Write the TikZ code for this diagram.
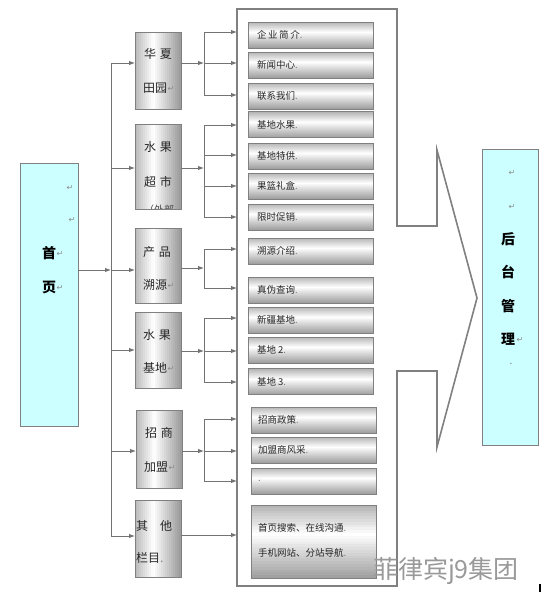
\documentclass[tikz,border=0pt]{standalone}
\usepackage{fontspec}
\setmainfont{Noto Sans CJK SC}
\newfontfamily\symfont{DejaVu Sans}
\usetikzlibrary{arrows.meta}
\newcommand\retmark{{\symfont\color{black!45}\fontsize{8}{8}\selectfont ↵}}
\newcommand\dotmark{{\color{black!50}.}}
\definecolor{lcyan}{HTML}{CCFFFF}
\definecolor{bord}{HTML}{808080}
% vertical gradient strips: #1 x-left, #2 y-top, #3 x-right, #4 y-bottom
\newcommand\vgradfill[4]{%
  \foreach \i in {0,...,25}{%
    \pgfmathsetmacro\ya{#2+(#4-#2)*\i/26}%
    \pgfmathsetmacro\yb{#2+(#4-#2)*(\i+1)/26+0.4}%
    \pgfmathsetmacro\tt{(\i+0.5)/26}%
    \pgfmathsetmacro\pp{\tt<0.4 ? 30*(1-\tt/0.4) : 38*(\tt-0.4)/0.6}%
    \fill[black!\pp] (#1,\ya) rectangle (#3,\yb);
  }}
% horizontal gradient strips
\newcommand\hgradfill[4]{%
  \foreach \i in {0,...,22}{%
    \pgfmathsetmacro\xa{#1+(#3-#1)*\i/23}%
    \pgfmathsetmacro\xb{#1+(#3-#1)*(\i+1)/23+0.4}%
    \pgfmathsetmacro\tt{(\i+0.5)/23}%
    \pgfmathsetmacro\pp{\tt<0.4 ? 28*(1-\tt/0.4) : 40*(\tt-0.4)/0.6}%
    \fill[black!\pp] (\xa,#2) rectangle (\xb,#4);
  }}
\begin{document}
\begin{tikzpicture}[x=1pt,y=-1pt,
  every node/.style={inner sep=0pt, outer sep=0pt},
  catbox/.style={draw=bord, line width=0.9pt, minimum width=46pt},
  subbox/.style={draw=bord, line width=0.9pt, minimum width=125pt, minimum height=26pt},
  mainbox/.style={draw=bord, line width=0.9pt, fill=lcyan},
  conn/.style={draw=black!55, line width=0.9pt},
  arr/.style={conn, -{Latex[length=6pt,width=4.5pt]}},
  cattext/.style={font=\fontsize{12}{12}\selectfont, text=black!85},
  subtext/.style={font=\fontsize{9.5}{10}\selectfont, text=black!85, anchor=west},
  bigtext/.style={font=\fontsize{14}{14}\selectfont\bfseries, text=black},
]
\useasboundingbox (0,0) rectangle (548,592);

% big arrow-shaped frame
\draw[draw=black!50, line width=1.6pt, line join=miter]
  (237,9) -- (397,9) -- (397,226) -- (437,226) -- (437,150) -- (477,298)
  -- (437,447) -- (437,371) -- (397,371) -- (397,586) -- (237,586) -- cycle;

% main boxes
\node[mainbox, minimum width=58pt, minimum height=263pt] (home) at (49,294.5) {};
\node[mainbox, minimum width=56pt, minimum height=296pt] (back) at (510,297) {};

% home text
\node at (70,188) {\retmark};
\node at (72,220) {\retmark};
\node[bigtext] (t1) at (49,253) {首};
\node at (60,254) {\retmark};
\node[bigtext] (t2) at (49,287) {页};
\node at (60,288) {\retmark};

% back text
\node at (512,173) {\retmark};
\node at (512,207) {\retmark};
\node[bigtext] at (508,239) {后};
\node[bigtext] at (508,272) {台};
\node[bigtext] at (508,306) {管};
\node[bigtext] at (508,339) {理};
\node at (520,340) {\retmark};
\node at (511,364) {\dotmark};

% category boxes: gradients then outlines
\hgradfill{135}{32}{181}{109}
\hgradfill{135}{124}{181}{209}
\hgradfill{135}{228}{181}{303}
\hgradfill{135}{312}{181}{388}
\hgradfill{136}{410}{182}{488}
\hgradfill{135}{500}{181}{577}
\node[catbox, minimum height=77pt] (hx) at (158,70.5) {};
\node[catbox, minimum height=85pt] (sg) at (158,166.5) {};
\node[catbox, minimum height=75pt] (cp) at (158,265.5) {};
\node[catbox, minimum height=76pt] (jd) at (158,350) {};
\node[catbox, minimum height=78pt] (zs) at (159,449) {};
\node[catbox, minimum height=77pt] (qt) at (158,538.5) {};

\node[cattext] at (158,54) {华\,\,夏};
\node[cattext] at (155,88) {田园};
\node at (171,89) {\retmark};
\node[cattext] at (158,147) {水\,\,果};
\node[cattext] at (158,182) {超\,\,市};
\begin{scope}
  \clip (135.5,124.5) rectangle (180.5,208.5);
  \node[font=\fontsize{10}{10}\selectfont, text=black!70] at (159,210) {（外部};
\end{scope}
\node[cattext] at (157,252) {产\,\,品};
\node[cattext] at (155,285) {溯源};
\node at (171,286) {\retmark};
\node[cattext] at (157,335) {水\,\,果};
\node[cattext] at (155,368) {基地};
\node at (171,369) {\retmark};
\node[cattext] at (159,433) {招\,\,商};
\node[cattext] at (156,467) {加盟};
\node at (172,468) {\retmark};
\node[cattext, anchor=west] at (136,526) {其\quad 他};
\node[cattext, anchor=west] at (136,558) {栏目\dotmark};

% sub boxes: gradients then outlines
\vgradfill{248}{22}{373}{48}
\vgradfill{248}{52}{373}{78}
\vgradfill{248}{83}{373}{109}
\vgradfill{248}{111.5}{373}{137.5}
\vgradfill{248}{143}{373}{169}
\vgradfill{248}{173}{373}{199}
\vgradfill{248}{204}{373}{230}
\vgradfill{248}{238}{373}{264}
\vgradfill{248}{277}{373}{303}
\vgradfill{248}{307}{373}{333}
\vgradfill{248}{337}{373}{363}
\vgradfill{248}{368.5}{373}{394.5}
\vgradfill{251}{407}{376}{433}
\vgradfill{251}{437}{376}{463}
\vgradfill{251}{468}{376}{494}
\vgradfill{251}{505}{376}{578}
\node[subbox] (s1) at (310.5,35) {};
\node[subbox] (s2) at (310.5,65) {};
\node[subbox] (s3) at (310.5,96) {};
\node[subbox] (s4) at (310.5,124.5) {};
\node[subbox] (s5) at (310.5,156) {};
\node[subbox] (s6) at (310.5,186) {};
\node[subbox] (s7) at (310.5,217) {};
\node[subbox] (s8) at (310.5,251) {};
\node[subbox] (s9) at (310.5,290) {};
\node[subbox] (s10) at (310.5,320) {};
\node[subbox] (s11) at (310.5,350) {};
\node[subbox] (s12) at (310.5,381.5) {};
\node[subbox] (s13) at (313.5,420) {};
\node[subbox] (s14) at (313.5,450) {};
\node[subbox] (s15) at (313.5,481) {};
\node[subbox, minimum height=73pt] (s16) at (313.5,541.5) {};

\node[subtext] at (257,35) {企\,业\,简\,介\dotmark};
\node[subtext] at (257,65) {新闻中心\dotmark};
\node[subtext] at (257,96) {联系我们\dotmark};
\node[subtext] at (257,124.5) {基地水果\dotmark};
\node[subtext] at (257,156) {基地特供\dotmark};
\node[subtext] at (257,186) {果篮礼盒\dotmark};
\node[subtext] at (257,217) {限时促销\dotmark};
\node[subtext] at (257,251) {溯源介绍\dotmark};
\node[subtext] at (257,290) {真伪查询\dotmark};
\node[subtext] at (257,320) {新疆基地\dotmark};
\node[subtext] at (257,350) {基地 2\dotmark};
\node[subtext] at (257,381.5) {基地 3\dotmark};
\node[subtext] at (258,420) {招商政策\dotmark};
\node[subtext] at (258,450) {加盟商风采\dotmark};
\node[subtext] at (258,481) {\dotmark};
\node[subtext] at (258,528) {首页搜索、在线沟通\dotmark};
\node[subtext] at (258,553) {手机网站、分站导航\dotmark};

% trunk
\coordinate (trT) at (111,63);
\coordinate (trB) at (111,536);
\draw[conn] (trT) -- (trB);
\draw[arr] (home.east |- 0,270) -- (111,270);
\draw[arr] (trT) -- (hx.west |- 0,63);
\draw[arr] (111,168) -- (sg.west |- 0,168);
\draw[arr] (111,270) -- (cp.west |- 0,270);
\draw[arr] (111,350) -- (jd.west |- 0,350);
\draw[arr] (111,451) -- (zs.west |- 0,451);
\draw[arr] (trB) -- (qt.west |- 0,536);

% splitters
\draw[arr] (hx.east |- 0,63) -- (204,63);
\draw[conn] (204,32) -- (204,95);
\draw[arr] (204,32) -- (237,32);
\draw[arr] (204,63) -- (237,63);
\draw[arr] (204,95) -- (237,95);

\draw[arr] (sg.east |- 0,168) -- (204,168);
\draw[conn] (204,125) -- (204,217);
\draw[arr] (204,125) -- (237,125);
\draw[arr] (204,155) -- (237,155);
\draw[arr] (204,186) -- (237,186);
\draw[arr] (204,217) -- (237,217);

\draw[arr] (cp.east |- 0,268) -- (204,268);
\draw[conn] (204,249) -- (204,288);
\draw[arr] (204,249) -- (237,249);
\draw[arr] (204,288) -- (237,288);

\draw[arr] (jd.east |- 0,351) -- (204,351);
\draw[conn] (204,318) -- (204,382);
\draw[arr] (204,318) -- (237,318);
\draw[arr] (204,351) -- (237,351);
\draw[arr] (204,382) -- (237,382);

\draw[arr] (zs.east |- 0,451) -- (204,451);
\draw[conn] (204,419) -- (204,481);
\draw[arr] (204,419) -- (237,419);
\draw[arr] (204,451) -- (237,451);
\draw[arr] (204,481) -- (237,481);

\draw[arr] (qt.east |- 0,535) -- (237,535);

% watermark
\node[font=\fontsize{25}{25}\selectfont, text=black!40, anchor=west] (wm) at (373,571) {菲律宾j9集团};
\draw[black, line width=1.5pt] (540,584) -- (540,592);
\end{tikzpicture}
\end{document}
